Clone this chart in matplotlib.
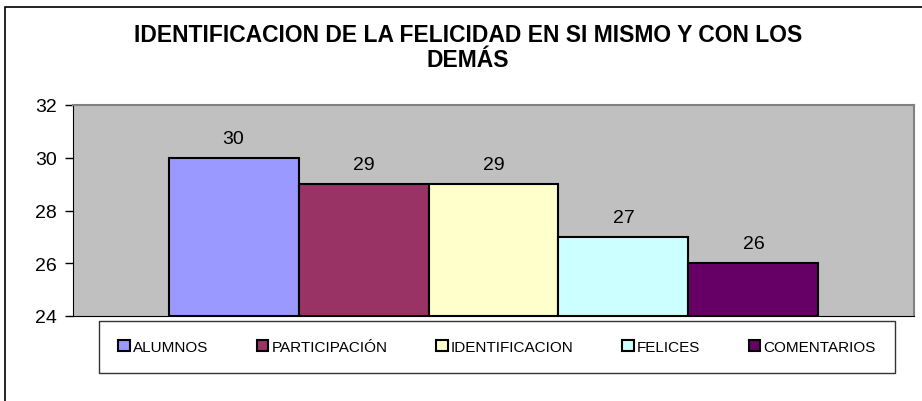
import matplotlib.pyplot as plt
from matplotlib.patches import Patch, Rectangle

plt.rcParams['font.family'] = ['Liberation Sans', 'DejaVu Sans']

series = ['ALUMNOS', 'PARTICIPACIÓN', 'IDENTIFICACION', 'FELICES', 'COMENTARIOS']
values = [30, 29, 29, 27, 26]
colors = ['#9999FF', '#993366', '#FFFFCC', '#CCFFFF', '#660066']
title = 'IDENTIFICACION DE LA FELICIDAD EN SI MISMO Y CON LOS\nDEMÁS'

fig = plt.figure(figsize=(9.22, 4.02), dpi=100)
fig.patch.set_facecolor('white')

# chart border (left and top edges visible)
fig.patches.append(Rectangle((5 / 922, -0.1), 1.2, (402 - 8) / 402 + 0.1,
                             transform=fig.transFigure, fill=False,
                             edgecolor='black', linewidth=1.2))

ax = fig.add_axes([73 / 922, (402 - 317) / 402, (914 - 73) / 922, (317 - 106) / 402])
ax.set_facecolor('#C0C0C0')

x = range(len(values))
ax.bar(x, [v - 24 for v in values], bottom=24, width=1.0, color=colors,
       edgecolor='black', linewidth=1.5, zorder=3)
for i, v in enumerate(values):
    ax.annotate(str(v), (i, v), xytext=(0, 8), textcoords='offset points',
                ha='center', va='bottom', fontsize=14)

ax.set_xlim(-0.5 - 0.735, len(values) - 0.5 + 0.735)
ax.set_ylim(24, 32)
ax.set_yticks([24, 26, 28, 30, 32])
ax.tick_params(axis='y', labelsize=14, length=5.5, width=1, direction='out', pad=6)
ax.set_xticks([])
for side in ['top', 'right']:
    ax.spines[side].set_color('#808080')
    ax.spines[side].set_linewidth(1.5)
ax.spines['left'].set_color('black')
ax.spines['bottom'].set_color('black')

fig.text(468 / 922, 1 - 48 / 402, title, ha='center', va='center', fontsize=16.5,
         fontweight='bold', linespacing=1.1)

handles = [Patch(facecolor=c, edgecolor='black', linewidth=1.5) for c in colors]
leg = fig.legend(handles, series, ncol=5, loc='center left', mode='expand',
                 bbox_to_anchor=(99 / 922, (402 - 376) / 402, (895 - 99) / 922, (376 - 320) / 402),
                 fontsize=11, frameon=True, fancybox=False, handlelength=0.75,
                 handleheight=0.75, handletextpad=0.2, borderpad=1.25, borderaxespad=0,
                 columnspacing=1.0)
leg.get_frame().set_edgecolor('black')
leg.get_frame().set_linewidth(1)

fig.savefig('out.png', dpi=100)
